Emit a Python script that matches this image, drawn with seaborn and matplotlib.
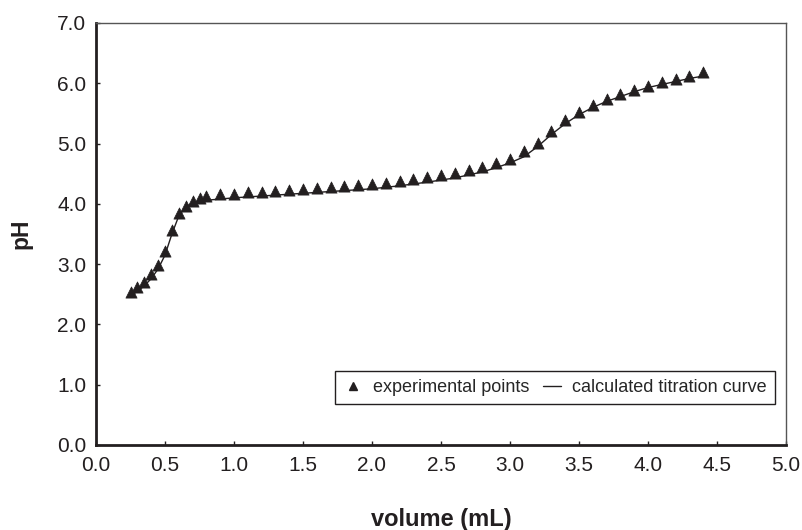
import matplotlib
matplotlib.use("Agg")
import matplotlib.pyplot as plt
import seaborn as sns
import pandas as pd
from matplotlib.lines import Line2D

# experimental points
vol_exp = [0.25, 0.30, 0.35, 0.40, 0.45, 0.50, 0.55, 0.60, 0.65, 0.70, 0.75, 0.80,
           0.9, 1.0, 1.1, 1.2, 1.3, 1.4, 1.5, 1.6, 1.7, 1.8, 1.9, 2.0, 2.1, 2.2,
           2.3, 2.4, 2.5, 2.6, 2.7, 2.8, 2.9, 3.0, 3.1, 3.2, 3.3, 3.4, 3.5, 3.6,
           3.7, 3.8, 3.9, 4.0, 4.1, 4.2, 4.3, 4.4]
ph_exp = [2.53, 2.62, 2.71, 2.84, 2.99, 3.22, 3.56, 3.85, 3.96, 4.05, 4.09, 4.13,
          4.16, 4.17, 4.19, 4.20, 4.22, 4.23, 4.25, 4.26, 4.28, 4.29, 4.31, 4.33, 4.35, 4.38,
          4.41, 4.44, 4.48, 4.52, 4.56, 4.61, 4.67, 4.75, 4.87, 5.01, 5.21, 5.39, 5.53, 5.64,
          5.74, 5.82, 5.89, 5.96, 6.02, 6.07, 6.12, 6.18]

# calculated titration curve
vol_calc = [0.25, 0.30, 0.35, 0.40, 0.45, 0.50, 0.55, 0.60, 0.65, 0.70, 0.75, 0.80,
            0.9, 1.0, 1.2, 1.4, 1.6, 1.8, 2.0, 2.2, 2.4, 2.6, 2.8, 2.9, 3.0, 3.1,
            3.2, 3.3, 3.4, 3.5, 3.6, 3.7, 3.8, 3.9, 4.0, 4.1, 4.2, 4.3, 4.4]
ph_calc = [2.47, 2.55, 2.64, 2.76, 2.92, 3.15, 3.50, 3.80, 3.95, 4.01, 4.04, 4.06,
           4.08, 4.10, 4.13, 4.16, 4.19, 4.22, 4.25, 4.30, 4.36, 4.43, 4.53, 4.60, 4.68, 4.78,
           4.95, 5.15, 5.33, 5.48, 5.60, 5.70, 5.78, 5.86, 5.93, 5.98, 6.03, 6.08, 6.12]

x_ticks = [0.0, 0.5, 1.0, 1.5, 2.0, 2.5, 3.0, 3.5, 4.0, 4.5, 5.0]
y_ticks = [0.0, 1.0, 2.0, 3.0, 4.0, 5.0, 6.0, 7.0]

sns.set_style("ticks")
plt.rcParams['font.family'] = ['Liberation Sans', 'DejaVu Sans']

fig = plt.figure(figsize=(8.02, 5.30), dpi=100)
ax = fig.add_axes([96/802, 85/530, 690/802, 422/530])

df_exp = pd.DataFrame({"volume": vol_exp, "pH": ph_exp})
df_calc = pd.DataFrame({"volume": vol_calc, "pH": ph_calc})

sns.lineplot(data=df_calc, x="volume", y="pH", ax=ax, color="#231f20", lw=1.0,
             sort=True, estimator=None)
sns.scatterplot(data=df_exp, x="volume", y="pH", ax=ax, marker="^", s=65,
                color="#231f20", edgecolor="#231f20", linewidth=0.5, zorder=3)

ax.set_xlim(0, 5.0)
ax.set_ylim(0, 7.0)
ax.set_xticks(x_ticks)
ax.set_yticks(y_ticks)
ax.set_xticklabels([f"{v:.1f}" for v in x_ticks])
ax.set_yticklabels([f"{v:.1f}" for v in y_ticks])
ax.tick_params(direction="in", length=3, width=1, labelsize=15, colors="#231f20",
               labelcolor="#231f20")
ax.tick_params(axis="x", pad=8)
ax.tick_params(axis="y", pad=7)

for s in ["left", "bottom"]:
    ax.spines[s].set_linewidth(2.0)
    ax.spines[s].set_color("#231f20")
for s in ["top", "right"]:
    ax.spines[s].set_visible(True)
    ax.spines[s].set_linewidth(1.0)
    ax.spines[s].set_color("#555555")

ax.set_xlabel("volume (mL)", fontsize=17, fontweight="bold", color="#231f20")
ax.set_ylabel("pH", fontsize=16.5, fontweight="bold", color="#231f20")
ax.xaxis.set_label_coords(0.5, -0.150)
ax.yaxis.set_label_coords(-0.092, 0.5)

handles = [Line2D([], [], marker="^", ls="none", color="#231f20", markersize=5.5),
           Line2D([], [], color="#231f20", lw=1.0)]
leg = ax.legend(handles, ["experimental points", "calculated titration curve"],
                ncol=2, loc="lower right", bbox_to_anchor=(0.984, 0.097),
                borderaxespad=0,
                fontsize=13, frameon=True, fancybox=False, edgecolor="#231f20",
                handlelength=1.0, handletextpad=0.6, columnspacing=0.8,
                borderpad=0.45, framealpha=1)
leg.get_frame().set_linewidth(1.0)

fig.savefig("out.png", dpi=100)
